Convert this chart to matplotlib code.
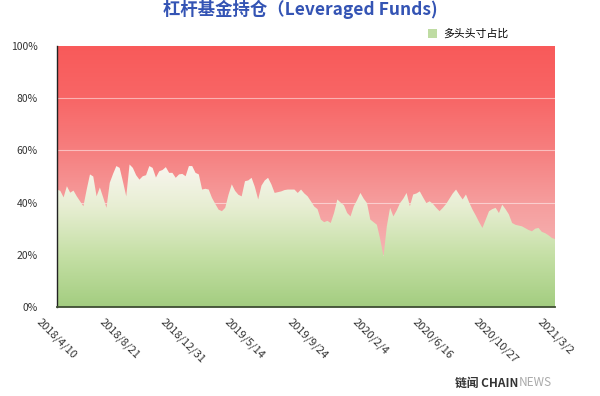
import numpy as np
import matplotlib
matplotlib.use("Agg")
import matplotlib.pyplot as plt
from matplotlib.colors import LinearSegmentedColormap
from matplotlib.patches import Patch

plt.rcParams['font.family'] = ['Noto Sans CJK SC', 'DejaVu Sans']

# ---- data: weekly long-position share (%) of leveraged funds ----
long_share = [
    45, 44.5, 42, 46.3, 43.8, 44.6, 42.4, 40.5, 38.6, 45,
    50.8, 50, 42.4, 45.8, 42, 38, 47.6, 51, 54, 53.3,
    48, 42.4, 54.6, 53.3, 50.5, 48.8, 50.1, 50.5, 54, 53.3,
    49.6, 52, 52.5, 53.6, 51.4, 51.4, 49.5, 50.8, 51, 50.1,
    54, 54, 51.4, 50.8, 45, 45.3, 45, 41.8, 39.5, 37.3,
    36.7, 38, 43, 47, 44.5, 43, 42.4, 48.2, 48.5, 49.5,
    46, 41.2, 46.5, 48.5, 49.5, 47, 43.7, 44, 44.3, 44.8,
    45, 45, 45, 43.7, 45, 43.5, 42.4, 40.5, 38.5, 37.5,
    33.5, 32.5, 33, 32.2, 36, 41.2, 40, 39, 36, 34.7,
    38.6, 41, 43.7, 41.5, 39.8, 33.5, 32.5, 31.5, 26, 19.3,
    30.9, 38, 34.7, 37, 39.8, 41.5, 43.7, 38.6, 43.1, 43.5,
    44.3, 42, 39.8, 40.5, 39.5, 38, 36.7, 38, 39.5, 41.5,
    43.5, 45, 43, 41.2, 43.1, 40, 37.3, 35, 32.5, 30.3,
    33.5, 36.7, 37.5, 38, 36, 39.2, 37.5, 35.5, 32.2, 31.5,
    31.2, 30.9, 30.2, 29.5, 29, 30, 30.3, 28.8, 28.3, 27.5,
    26.5, 26,
]
tick_index = [0, 19, 38, 57, 76, 95, 114, 133, 151]
tick_labels = ['2018/4/10', '2018/8/21', '2018/12/31', '2019/5/14', '2019/9/24',
               '2020/2/4', '2020/6/16', '2020/10/27', '2021/3/2']
y_ticks = [0, 20, 40, 60, 80, 100]
y_tick_labels = ['0%', '20%', '40%', '60%', '80%', '100%']
title = '杠杆基金持仓（Leveraged Funds)'
legend_label = '多头头寸占比'

x = np.arange(len(long_share))
vals = np.array(long_share, dtype=float)

fig = plt.figure(figsize=(6.0, 3.96), dpi=100)
fig.patch.set_facecolor('white')
ax = fig.add_axes([57/600, 1-307/396, (555-57)/600, (307-46)/396])
ax.set_xlim(x[0], x[-1])
ax.set_ylim(0, 100)

# red gradient background (short side)
red_cmap = LinearSegmentedColormap.from_list('red', [
    (0.0, '#f7bcbc'), (0.2, '#f6b3b3'), (0.4, '#f59d9d'),
    (0.6, '#f67f7f'), (0.8, '#f86666'), (1.0, '#f95a5a')])
grad = np.linspace(0, 1, 256).reshape(-1, 1)
ax.imshow(grad, cmap=red_cmap, origin='lower', aspect='auto',
          extent=[x[0], x[-1], 0, 100], zorder=1, interpolation='bilinear')

# gridlines
for yv in [20, 40, 60, 80]:
    ax.axhline(yv, color='white', lw=0.8, alpha=0.5, zorder=2)

# green gradient area (long side)
green_cmap = LinearSegmentedColormap.from_list('green', [
    (0.0, '#a3cd80'), (0.35, '#c4dfa4'), (0.7, '#e7eed2'), (1.0, '#f9f6f0')])
top = vals.max()
poly = ax.fill_between(x, 0, vals, facecolor='none', edgecolor='none', zorder=3)
im = ax.imshow(grad, cmap=green_cmap, origin='lower', aspect='auto',
               extent=[x[0], x[-1], 0, top], zorder=3, interpolation='bilinear')
im.set_clip_path(poly.get_paths()[0], transform=ax.transData)
ax.set_ylim(0, 100)
ax.set_xlim(x[0], x[-1])

# axes styling
for s in ['top', 'right']:
    ax.spines[s].set_visible(False)
ax.spines['left'].set_color('#222222')
ax.spines['left'].set_linewidth(1.0)
ax.spines['bottom'].set_color('#3f4d33')
ax.spines['bottom'].set_linewidth(1.3)
for s in ax.spines.values():
    s.set_zorder(5)

ax.set_yticks(y_ticks)
ax.set_yticklabels(y_tick_labels, fontsize=7.5, color='#333333')
ax.set_xticks(tick_index)
ax.set_xticklabels(tick_labels, fontsize=8, color='#333333', rotation=-45)
ax.tick_params(axis='both', length=0)
ax.tick_params(axis='x', pad=7)
ax.tick_params(axis='y', pad=14)

# title near the top edge
fig.text(0.5, 1-15/396, title, ha='center', va='baseline', fontsize=12.5,
         fontweight='bold', color='#3454b4')

# legend
handle = Patch(facecolor='#bfdca3', edgecolor='none')
fig.legend([handle], [legend_label], loc='center left',
           bbox_to_anchor=(423/600, 1-34/396), frameon=False, fontsize=7.8,
           handlelength=0.8, handleheight=0.8, handletextpad=0.6,
           borderpad=0.0)

# logo text
t1 = fig.text(455/600, 1-383/396, '链闻 CHAIN', ha='left', va='center',
              fontsize=8.5, fontweight='bold', color='#333333')
fig.canvas.draw()
bb = t1.get_window_extent(renderer=fig.canvas.get_renderer())
fig.text(bb.x1 / (fig.dpi * fig.get_figwidth()), 1-383/396, 'NEWS',
         ha='left', va='center', fontsize=8.5, color='#aaaaaa')

fig.savefig('out.png', dpi=100)
